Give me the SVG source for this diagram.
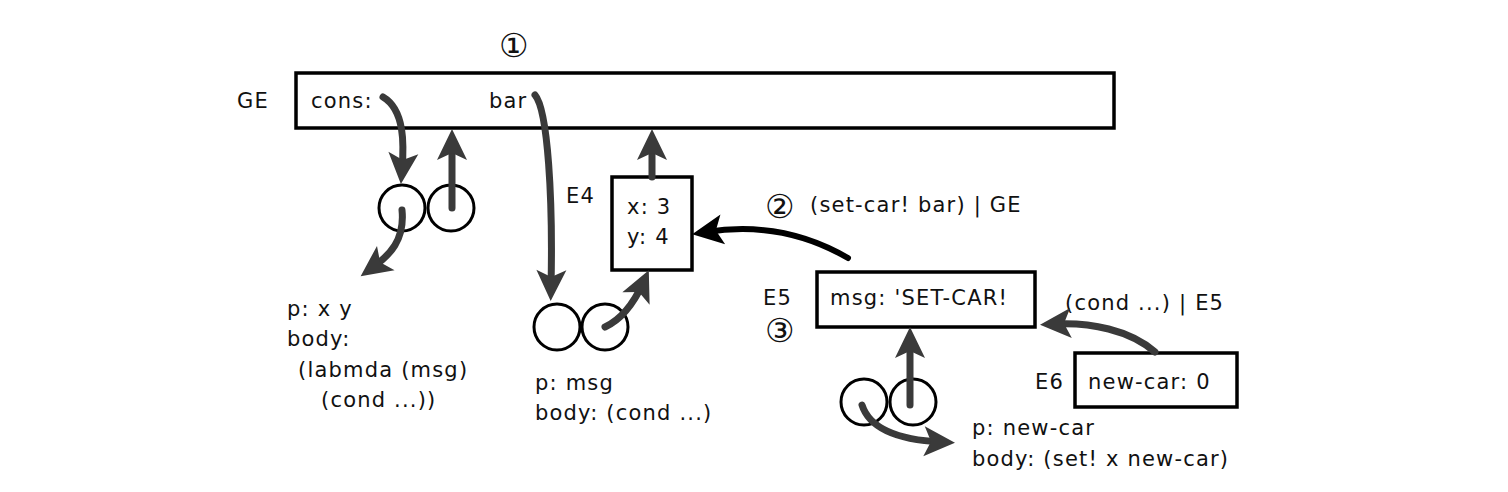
<svg xmlns="http://www.w3.org/2000/svg" width="1508" height="492" viewBox="0 0 1508 492">
<style>
text{font-family:"DejaVu Sans","Liberation Sans",sans-serif;font-size:21px;letter-spacing:1.2px;fill:#111}
.num{font-family:"DejaVu Sans",sans-serif;font-size:33px;letter-spacing:0}
.box{fill:#fff;stroke:#000;stroke-width:3.5}
.cell{fill:none;stroke:#000;stroke-width:3}
.arr{fill:none;stroke:#3a3a3a;stroke-width:7;stroke-linecap:round;marker-end:url(#ah)}
.arrk{fill:none;stroke:#000;stroke-width:6;stroke-linecap:round;marker-end:url(#ahk)}
</style>
<defs>
<marker id="ah" viewBox="-18 -17 34 34" refX="0" refY="0" markerWidth="34" markerHeight="34" markerUnits="userSpaceOnUse" orient="auto">
<path d="M14,0 L-17,-15 L-10,0 L-17,15 Z" fill="#3a3a3a"/>
</marker>
<marker id="ahk" viewBox="-18 -17 34 34" refX="0" refY="0" markerWidth="34" markerHeight="34" markerUnits="userSpaceOnUse" orient="auto">
<path d="M14,0 L-17,-15 L-10,0 L-17,15 Z" fill="#000"/>
</marker>
</defs>
<rect width="1508" height="492" fill="#fff"/>

<g id="GE">
<rect class="box" x="296" y="73" width="818" height="55"/>
<text x="237" y="108">GE</text>
<text x="311" y="108">cons:</text>
<text x="489" y="108">bar</text>
<text class="num" x="499" y="57">①</text>
</g>

<g id="cons-pair">
<circle class="cell" cx="402" cy="208" r="23"/>
<circle class="cell" cx="451" cy="208" r="23"/>
</g>
<g id="cons-proc">
<text x="287" y="316">p: x y</text>
<text x="287" y="346">body:</text>
<text x="298" y="377">(labmda (msg)</text>
<text x="321" y="407">(cond ...))</text>
</g>

<g id="E4">
<rect class="box" x="612" y="177" width="80" height="93"/>
<text x="566" y="203">E4</text>
<text x="627" y="214">x: 3</text>
<text x="627" y="244">y: 4</text>
</g>

<g id="bar-pair">
<circle class="cell" cx="557" cy="327" r="23"/>
<circle class="cell" cx="605" cy="327" r="23"/>
</g>
<g id="bar-proc">
<text x="535" y="390">p: msg</text>
<text x="535" y="420">body: (cond ...)</text>
</g>

<g id="label2">
<text class="num" x="765" y="218">②</text>
<text x="810" y="212">(set-car! bar) | GE</text>
</g>

<g id="E5">
<rect class="box" x="817" y="272" width="218" height="55"/>
<text x="763" y="305">E5</text>
<text class="num" x="765" y="342">③</text>
<text x="830" y="305">msg: 'SET-CAR!</text>
</g>

<g id="label-cond">
<text x="1065" y="310">(cond ...) | E5</text>
</g>

<g id="E6">
<rect class="box" x="1075" y="353" width="162" height="54"/>
<text x="1035" y="389">E6</text>
<text x="1088" y="389">new-car: 0</text>
</g>

<g id="setcar-pair">
<circle class="cell" cx="864" cy="402" r="23"/>
<circle class="cell" cx="913" cy="402" r="23"/>
</g>
<g id="setcar-proc">
<text x="972" y="435">p: new-car</text>
<text x="972" y="466">body: (set! x new-car)</text>
</g>

<g id="connectors">
<path class="arr" d="M383,97 C405,110 404,145 402,170"/>
<path class="arr" d="M452,208 L452,143"/>
<path class="arr" d="M402,210 C405,240 390,255 372,268"/>
<path class="arr" d="M535,95 C548,110 553,200 551,287"/>
<path class="arr" d="M605,327 C620,320 633,305 643,283"/>
<path class="arr" d="M652,177 L652,143"/>
<path class="arrk" d="M848,258 C800,230 750,225 706,232"/>
<path class="arr" d="M910,405 L910,341"/>
<path class="arr" d="M1155,352 C1130,330 1090,322 1054,324"/>
<path class="arr" d="M862,405 C870,430 900,440 941,442"/>
</g>
</svg>
